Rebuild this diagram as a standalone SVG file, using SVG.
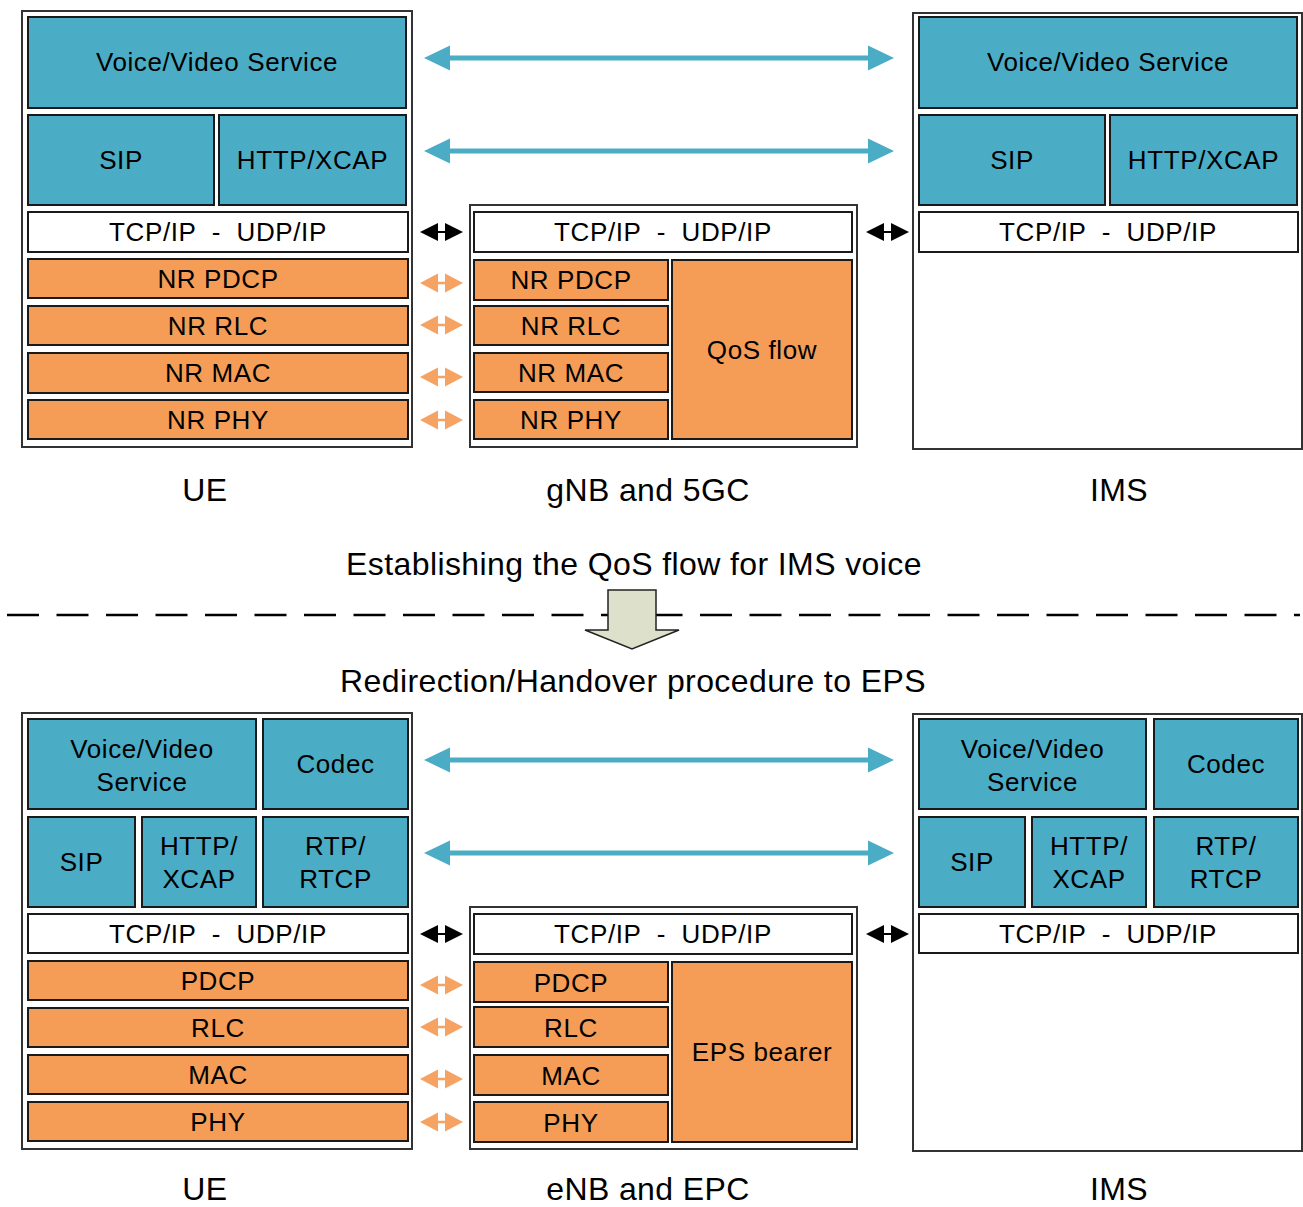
<svg xmlns="http://www.w3.org/2000/svg" width="1303" height="1207" viewBox="0 0 1303 1207">
<style>
text{font-family:"Liberation Sans",Arial,sans-serif;fill:#000;text-anchor:middle}
.t{font-size:26px;letter-spacing:0.6px}
.l{font-size:32px;letter-spacing:0.4px}
.outer{fill:#fff;stroke:#333;stroke-width:2}
.b{fill:#4BACC6;stroke:#1a1a1a;stroke-width:2}
.o{fill:#F59D56;stroke:#1a1a1a;stroke-width:2}
.w{fill:#fff;stroke:#1a1a1a;stroke-width:2}
.ba{fill:#4BACC6}
.bl{stroke:#4BACC6;stroke-width:5}
.ka{fill:#000}
.kl{stroke:#000;stroke-width:2}
.oa{fill:#F5A263}
.ol{stroke:#F5A263;stroke-width:2.5}
</style>
<defs>
<g id="blueArrow"><line class="bl" x1="445" y1="0" x2="873" y2="0"/><polygon class="ba" points="424,0 450,-12.5 450,12.5"/><polygon class="ba" points="894,0 868,-12.5 868,12.5"/></g>
<g id="blackArrow"><line class="kl" x1="436" y1="0" x2="447" y2="0"/><polygon class="ka" points="420,0 438,-9 438,9"/><polygon class="ka" points="463,0 445,-9 445,9"/></g>
<g id="orangeArrow"><line class="ol" x1="436" y1="0" x2="447" y2="0"/><polygon class="oa" points="420,0 438,-9.5 438,9.5"/><polygon class="oa" points="463,0 445,-9.5 445,9.5"/></g>
</defs>

<!-- ===== TOP SECTION ===== -->
<g id="ue-top">
<rect class="outer" x="22" y="11" width="390" height="436"/>
<rect class="b" x="28" y="17" width="378" height="91"/><text class="t" x="217" y="71">Voice/Video Service</text>
<rect class="b" x="28" y="115" width="186" height="90"/><text class="t" x="121" y="169">SIP</text>
<rect class="b" x="219" y="115" width="187" height="90"/><text class="t" x="312.5" y="169">HTTP/XCAP</text>
<rect class="w" x="28" y="212" width="380" height="40"/><text class="t" x="218" y="241">TCP/IP &#160;-&#160; UDP/IP</text>
<rect class="o" x="28" y="259" width="380" height="39"/><text class="t" x="218" y="288">NR PDCP</text>
<rect class="o" x="28" y="306" width="380" height="39"/><text class="t" x="218" y="335">NR RLC</text>
<rect class="o" x="28" y="353" width="380" height="40"/><text class="t" x="218" y="382">NR MAC</text>
<rect class="o" x="28" y="400" width="380" height="39"/><text class="t" x="218" y="429">NR PHY</text>
</g>
<g id="gnb-top">
<rect class="outer" x="470" y="205" width="387" height="242"/>
<rect class="w" x="474" y="212" width="378" height="40"/><text class="t" x="663" y="241">TCP/IP &#160;-&#160; UDP/IP</text>
<rect class="o" x="474" y="260" width="194" height="40"/><text class="t" x="571" y="289">NR PDCP</text>
<rect class="o" x="474" y="306" width="194" height="39"/><text class="t" x="571" y="335">NR RLC</text>
<rect class="o" x="474" y="353" width="194" height="39"/><text class="t" x="571" y="382">NR MAC</text>
<rect class="o" x="474" y="400" width="194" height="39"/><text class="t" x="571" y="429">NR PHY</text>
<rect class="o" x="672" y="260" width="180" height="179"/><text class="t" x="762" y="359">QoS flow</text>
</g>
<g id="ims-top">
<rect class="outer" x="913" y="13" width="389" height="436"/>
<rect class="b" x="919" y="17" width="378" height="91"/><text class="t" x="1108" y="71">Voice/Video Service</text>
<rect class="b" x="919" y="115" width="186" height="90"/><text class="t" x="1012" y="169">SIP</text>
<rect class="b" x="1110" y="115" width="187" height="90"/><text class="t" x="1203.5" y="169">HTTP/XCAP</text>
<rect class="w" x="919" y="212" width="379" height="40"/><text class="t" x="1108" y="241">TCP/IP &#160;-&#160; UDP/IP</text>
</g>
<g id="labels-top">
<text class="l" x="205" y="501">UE</text>
<text class="l" x="648" y="501">gNB and 5GC</text>
<text class="l" x="1119" y="501">IMS</text>
</g>

<!-- ===== MIDDLE ===== -->
<g id="middle">
<text class="l" x="634" y="575">Establishing the QoS flow for IMS voice</text>
<line x1="7" y1="615" x2="1300" y2="615" stroke="#000" stroke-width="2.5" stroke-dasharray="32 17.5"/>
<polygon points="608,590 656,590 656,630 679,630 632,649 585,630 608,630" fill="#DDE1CB" stroke="#222" stroke-width="1.5"/>
<text class="l" x="633" y="692">Redirection/Handover procedure to EPS</text>
</g>

<!-- ===== BOTTOM SECTION ===== -->
<g id="ue-bottom">
<rect class="outer" x="22" y="713" width="390" height="436"/>
<rect class="b" x="28" y="719" width="228" height="90"/><text class="t" x="142" y="758">Voice/Video</text><text class="t" x="142" y="791">Service</text>
<rect class="b" x="263" y="719" width="145" height="90"/><text class="t" x="335.5" y="773">Codec</text>
<rect class="b" x="28" y="817" width="107" height="90"/><text class="t" x="81.5" y="871">SIP</text>
<rect class="b" x="142" y="817" width="114" height="90"/><text class="t" x="199" y="855">HTTP/</text><text class="t" x="199" y="888">XCAP</text>
<rect class="b" x="263" y="817" width="145" height="90"/><text class="t" x="335.5" y="855">RTP/</text><text class="t" x="335.5" y="888">RTCP</text>
<rect class="w" x="28" y="914" width="380" height="39"/><text class="t" x="218" y="943">TCP/IP &#160;-&#160; UDP/IP</text>
<rect class="o" x="28" y="961" width="380" height="39"/><text class="t" x="218" y="990">PDCP</text>
<rect class="o" x="28" y="1008" width="380" height="39"/><text class="t" x="218" y="1037">RLC</text>
<rect class="o" x="28" y="1055" width="380" height="39"/><text class="t" x="218" y="1084">MAC</text>
<rect class="o" x="28" y="1102" width="380" height="39"/><text class="t" x="218" y="1131">PHY</text>
</g>
<g id="enb-bottom">
<rect class="outer" x="470" y="907" width="387" height="242"/>
<rect class="w" x="474" y="914" width="378" height="40"/><text class="t" x="663" y="943">TCP/IP &#160;-&#160; UDP/IP</text>
<rect class="o" x="474" y="962" width="194" height="40"/><text class="t" x="571" y="992">PDCP</text>
<rect class="o" x="474" y="1007" width="194" height="40"/><text class="t" x="571" y="1037">RLC</text>
<rect class="o" x="474" y="1055" width="194" height="40"/><text class="t" x="571" y="1085">MAC</text>
<rect class="o" x="474" y="1102" width="194" height="40"/><text class="t" x="571" y="1132">PHY</text>
<rect class="o" x="672" y="962" width="180" height="180"/><text class="t" x="762" y="1061">EPS bearer</text>
</g>
<g id="ims-bottom">
<rect class="outer" x="913" y="714" width="389" height="437"/>
<rect class="b" x="919" y="719" width="227" height="90"/><text class="t" x="1032.5" y="758">Voice/Video</text><text class="t" x="1032.5" y="791">Service</text>
<rect class="b" x="1154" y="719" width="144" height="90"/><text class="t" x="1226" y="773">Codec</text>
<rect class="b" x="919" y="817" width="106" height="90"/><text class="t" x="972" y="871">SIP</text>
<rect class="b" x="1032" y="817" width="114" height="90"/><text class="t" x="1089" y="855">HTTP/</text><text class="t" x="1089" y="888">XCAP</text>
<rect class="b" x="1154" y="817" width="144" height="90"/><text class="t" x="1226" y="855">RTP/</text><text class="t" x="1226" y="888">RTCP</text>
<rect class="w" x="919" y="914" width="379" height="39"/><text class="t" x="1108" y="943">TCP/IP &#160;-&#160; UDP/IP</text>
</g>
<g id="labels-bottom">
<text class="l" x="205" y="1200">UE</text>
<text class="l" x="648" y="1200">eNB and EPC</text>
<text class="l" x="1119" y="1200">IMS</text>
</g>

<!-- ===== CONNECTORS ===== -->
<g id="connectors">
<use href="#blueArrow" y="58"/>
<use href="#blueArrow" y="151"/>
<use href="#blackArrow" y="232"/>
<use href="#blackArrow" x="446" y="232"/>
<use href="#orangeArrow" y="283"/>
<use href="#orangeArrow" y="325"/>
<use href="#orangeArrow" y="377"/>
<use href="#orangeArrow" y="420"/>
<use href="#blueArrow" y="760"/>
<use href="#blueArrow" y="853"/>
<use href="#blackArrow" y="934"/>
<use href="#blackArrow" x="446" y="934"/>
<use href="#orangeArrow" y="985"/>
<use href="#orangeArrow" y="1027"/>
<use href="#orangeArrow" y="1079"/>
<use href="#orangeArrow" y="1122"/>
</g>
</svg>
